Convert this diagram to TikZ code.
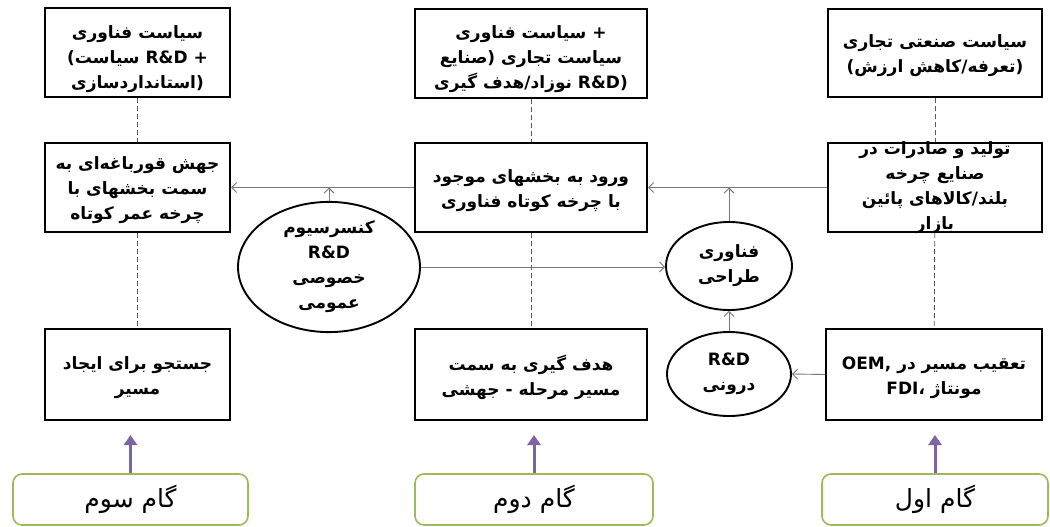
\documentclass[tikz,border=0pt]{standalone}
\usepackage{fontspec}
\TeXXeTstate=1
\newfontfamily\arabicfont[Script=Arabic]{DejaVu Sans}
\newfontfamily\latinfont{DejaVu Sans}
\usetikzlibrary{arrows.meta,shapes.geometric}
\newcommand\ar{\arabicfont}
\newcommand\boxfont{\latinfont\bfseries\fontsize{17}{25}\selectfont}
\newcommand\stepfont{\arabicfont\fontsize{25}{28}\selectfont}
\definecolor{gbord}{RGB}{155,187,89}
\definecolor{parr}{RGB}{128,100,162}
\definecolor{garr}{RGB}{120,120,120}
\begin{document}
\begin{tikzpicture}[x=1pt,y=-1pt,
  box/.style={draw=black, line width=2.2pt, inner sep=0pt},
  txt/.style={font=\boxfont, align=center, inner sep=0pt, text=black, yshift=-3pt},
  oval/.style={draw=black, line width=1.9pt, ellipse, inner sep=0pt, font=\boxfont, align=center},
  garrow/.style={draw=garr, line width=0.9pt, -{Straight Barb[length=5pt,width=10pt]}},
  dline/.style={draw=black!65, line width=0.9pt, dash pattern=on 5pt off 3pt},
  stepbox/.style={draw=gbord, line width=1.6pt, rounded corners=9pt, inner sep=0pt, font=\stepfont},
  parrow/.style={draw=parr, line width=3pt, -{Triangle[length=10pt,width=13pt]}},
]
\useasboundingbox (0,0) rectangle (1050,527);
\fill[white] (0,0) rectangle (1050,527);

% top row
\node[box, minimum width=185pt, minimum height=89pt,
  label={[txt,yshift=-4pt]center:{{\ar\beginR سیاست فناوری\endR}\\({\ar\beginR سیاست\endR} R\&D +\\{\ar\beginR استانداردسازی\endR})}}] (tl) at (137.5,52.5) {};
\node[box, minimum width=232pt, minimum height=89pt,
  label={[txt,yshift=-3pt]center:{{\ar\beginR سیاست فناوری\endR} +\\{\ar\beginR صنایع\endR}) {\ar\beginR سیاست تجاری\endR}\\{\ar\beginR نوزاد/هدف گیری\endR} R\&D)}}] (tm) at (531,53.5) {};
\node[box, minimum width=214pt, minimum height=88pt,
  label={[txt]center:{{\ar\beginR سیاست صنعتی تجاری\endR}\\({\ar\beginR تعرفه/کاهش ارزش\endR})}}] (tr) at (935,53) {};

% middle row
\node[box, minimum width=185pt, minimum height=89pt,
  label={[txt]center:{{\ar\beginR جهش قورباغه‌ای به\endR}\\{\ar\beginR سمت بخشهای با\endR}\\{\ar\beginR چرخه عمر کوتاه\endR}}}] (ml) at (137.5,187.5) {};
\node[box, minimum width=232pt, minimum height=89pt,
  label={[txt]center:{{\ar\beginR ورود به بخشهای موجود\endR}\\{\ar\beginR با چرخه کوتاه فناوری\endR}}}] (mm) at (531,187.5) {};
\node[box, minimum width=214pt, minimum height=89pt,
  label={[txt, yshift=3pt]center:{{\ar\beginR تولید و صادرات در\endR}\\{\ar\beginR صنایع چرخه\endR}\\{\ar\beginR بلند/کالاهای پائین\endR}\\{\ar\beginR بازار\endR}}}] (mr) at (935,187.5) {};

% bottom row
\node[box, minimum width=185pt, minimum height=91pt,
  label={[txt]center:{{\ar\beginR جستجو برای ایجاد\endR}\\{\ar\beginR مسیر\endR}}}] (bl) at (137.5,374.5) {};
\node[box, minimum width=232pt, minimum height=91pt,
  label={[txt]center:{{\ar\beginR هدف گیری به سمت\endR}\\{\ar\beginR مسیر مرحله - جهشی\endR}}}] (bm) at (531,374.5) {};
\node[box, minimum width=216pt, minimum height=91pt,
  label={[txt]center:{OEM, {\ar\beginR تعقیب مسیر در\endR}\\FDI{\ar\beginR ،\endR} {\ar\beginR مونتاژ\endR}}}] (br) at (934,374.5) {};

% ellipses
\node[oval, minimum width=182pt, minimum height=110pt] (cons) at (329,267)
  {{\ar\beginR کنسرسیوم\endR}\\R\&D\\{\ar\beginR خصوصی\endR}\\{\ar\beginR عمومی\endR}};
\node[oval, minimum width=126pt, minimum height=88pt] (des) at (729,266)
  {{\ar\beginR فناوری\endR}\\{\ar\beginR طراحی\endR}};
\node[oval, minimum width=124pt, minimum height=84pt] (inr) at (729,374)
  {R\&D\\{\ar\beginR درونی\endR}};

% step boxes
\node[stepbox, minimum width=235pt, minimum height=51pt] (g3) at (130.5,499.5) {\beginR گام سوم\endR};
\node[stepbox, minimum width=238pt, minimum height=51pt] (g2) at (534,499.5) {\beginR گام دوم\endR};
\node[stepbox, minimum width=226pt, minimum height=51pt] (g1) at (935,499.5) {\beginR گام اول\endR};

\coordinate (t3) at (130.5,435);
\coordinate (t2) at (534,435);
\coordinate (t1) at (935,435);
\draw[parrow] (g3.north) -- (t3);
\draw[parrow] (g2.north) -- (t2);
\draw[parrow] (g1.north) -- (t1);

% dashed links
\draw[dline] (tl) -- (ml);
\draw[dline] (ml) -- (bl);
\draw[dline] (tm) -- (mm);
\draw[dline] (mm) -- (bm);
\draw[dline] (tr) -- (mr);
\draw[dline] (mr) -- (br);

% gray arrows
\draw[garrow] (mm.west) -- (ml.east);
\draw[garrow] (mr.west) -- (mm.east);
\draw[garrow] (cons.north) -- (cons.north |- ml.east);
\draw[garrow] (des.north) -- (des.north |- mm.east);
\draw[garrow] (cons.east) -- (cons.east -| des.west);
\draw[garrow] (inr.north) -- (des.south);
\draw[garrow] (br.west) -- (inr.east);
\end{tikzpicture}
\end{document}
